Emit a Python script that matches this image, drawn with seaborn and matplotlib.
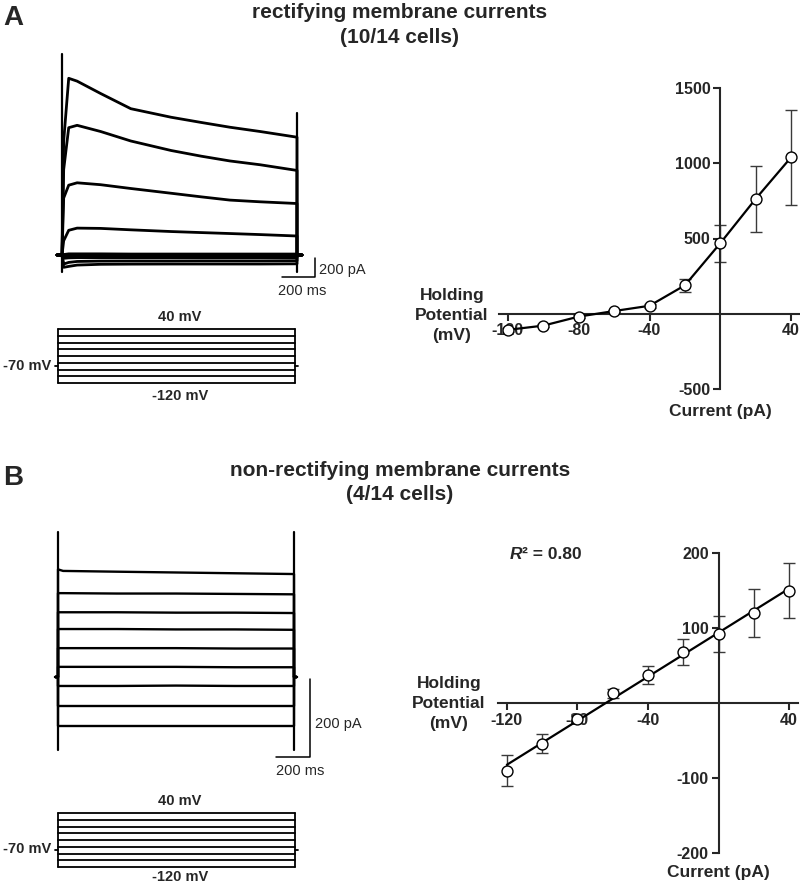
import matplotlib
matplotlib.use("Agg")
import matplotlib.pyplot as plt
import seaborn as sns

W, H = 800, 885

# I-V summary (mean +/- SEM), holding potential in mV, current in pA
holding_mv = [-120, -100, -80, -60, -40, -20, 0, 20, 40]
rect_mean = [-107, -79, -19, 18, 53, 189, 469, 764, 1040]
rect_sem = [15, 10, 8, 8, 12, 44, 124, 221, 317]
nonrect_mean = [-90, -54, -21, 13, 38, 68, 92, 120, 150]
nonrect_sem = [21, 13, 6, 6, 12, 17, 24, 32, 37]
r_squared = 0.80

# voltage protocol
hold_mv = -70
step_ms = 1400

# example recordings, current (pA) read at sample times (ms) for each step (mV)
trace_a_ms = [0, 10, 40, 90, 230, 410, 650, 830, 1000, 1180, 1400]
trace_a = {
    40: [0, 1200, 1860, 1830, 1700, 1540, 1450, 1395, 1345, 1300, 1240],
    20: [0, 900, 1340, 1365, 1300, 1200, 1100, 1040, 990, 950, 890],
    0: [0, 600, 735, 760, 740, 700, 650, 612, 578, 560, 542],
    -20: [0, 150, 260, 283, 280, 265, 247, 236, 226, 215, 200],
    -40: [0, 5, 12, 12, 12, 10, 10, 10, 10, 10, 10],
    -60: [0, -6, -8, -8, -8, -8, -8, -8, -8, -8, -8],
    -80: [0, -35, -30, -28, -28, -28, -28, -28, -28, -28, -28],
    -100: [0, -95, -78, -68, -64, -63, -63, -62, -62, -62, -60],
    -120: [0, -130, -120, -106, -98, -96, -95, -95, -95, -95, -93],
}
cap_a_on = [2120, -180]
cap_a_off = [1500, -180]

trace_b_ms = [0, 30, 350, 700, 1050, 1400]
trace_b = {
    40: [276, 272, 270, 268, 266, 264],
    20: [215, 215, 214, 214, 213, 212],
    0: [166, 166, 166, 165, 165, 164],
    -20: [123, 123, 123, 122, 122, 121],
    -40: [74, 74, 74, 74, 73, 73],
    -60: [26, 26, 26, 26, 25, 25],
    -80: [-23, -23, -23, -22, -23, -23],
    -100: [-74, -74, -74, -74, -74, -74],
    -120: [-125, -125, -125, -125, -125, -125],
}
cap_b_on = [372, -187]
cap_b_off = [372, -187]

scale_pa = 200
scale_ms = 200

sns.set_style("ticks")
plt.rcParams["font.family"] = ["Liberation Sans", "DejaVu Sans"]
plt.rcParams["axes.unicode_minus"] = False

fig = plt.figure(figsize=(W / 100, H / 100), dpi=100)


def ftext(x, y, s, **kw):
    kw.setdefault("va", "baseline")
    return fig.text(x / W, 1 - y / H, s, **kw)


def lin(p, ref):
    (p0, v0), (p1, v1) = ref
    return v0 + (p - p0) * (v1 - v0) / (p1 - p0)


def blank_axes(left, top, right, bottom, xref, yref):
    ax = fig.add_axes([left / W, 1 - bottom / H, (right - left) / W, (bottom - top) / H])
    ax.set_xlim(lin(left, xref), lin(right, xref))
    ax.set_ylim(lin(bottom, yref), lin(top, yref))
    ax.axis("off")
    return ax


def seg(ax, x, y, lw):
    sns.lineplot(x=x, y=y, ax=ax, color="black", lw=lw, sort=False,
                 estimator=None, clip_on=False, legend=False)


def draw_traces(ax, t, traces, cap_on, cap_off, pre, lw):
    for v, vals in traces.items():
        # holding level before the step, the step itself, back to holding
        xs = [-pre, 0] + list(t) + [step_ms, step_ms + pre]
        ys = [0, 0] + list(vals) + [0, 0]
        seg(ax, xs, ys, lw)
    seg(ax, [0, 0], cap_on, 1.6)
    seg(ax, [step_ms, step_ms], cap_off, 1.6)


def scale_bar(ax, x0, y0):
    seg(ax, [x0 - scale_ms, x0, x0], [y0, y0, y0 + scale_pa], 1.1)


def draw_protocol(ax):
    for v in holding_mv:
        seg(ax, [0, step_ms], [v, v], 1.3)
    seg(ax, [0, 0], [min(holding_mv), max(holding_mv)], 1.3)
    seg(ax, [step_ms, step_ms], [min(holding_mv), max(holding_mv)], 1.3)
    seg(ax, [-20, 0], [hold_mv, hold_mv], 1.3)
    seg(ax, [step_ms, step_ms + 20], [hold_mv, hold_mv], 1.3)


def iv_axes(ax, mean, sem, yticks, ylim, fit):
    ax.errorbar(holding_mv, mean, yerr=sem, fmt="none", ecolor="#3a3a3a",
                elinewidth=1, capsize=4, capthick=1, zorder=2)
    if fit:
        sns.regplot(x=holding_mv, y=mean, ax=ax, ci=None, scatter=False, truncate=True,
                    line_kws=dict(color="black", lw=1.6, zorder=3))
    else:
        sns.lineplot(x=holding_mv, y=mean, ax=ax, color="black", lw=1.6, zorder=3)
    sns.scatterplot(x=holding_mv, y=mean, ax=ax, s=62, color="white", edgecolor="black",
                    linewidth=1, zorder=5, clip_on=False)
    ax.set_xlim(-125, 45)
    ax.set_ylim(*ylim)
    ax.patch.set_visible(False)
    for side in ["top", "right"]:
        ax.spines[side].set_visible(False)
    ax.spines["left"].set_position(("data", 0))
    ax.spines["bottom"].set_position(("data", 0))
    for side in ["left", "bottom"]:
        ax.spines[side].set_linewidth(1.5)
    ax.set_xticks([-120, -80, -40, 40])
    ax.set_yticks(yticks)
    ax.tick_params(width=1.5, length=5, labelsize=11.5, pad=2)
    for lab in ax.get_xticklabels() + ax.get_yticklabels():
        lab.set_fontweight("bold")
    ax.set_xlabel("")
    ax.set_ylabel("")


# ---------------- panel A ----------------
ftext(3, 25, "A", fontsize=20, weight="bold")
ftext(400, 18, "rectifying membrane currents", ha="center", fontsize=15, weight="bold")
ftext(400, 43, "(10/14 cells)", ha="center", fontsize=15, weight="bold")

ax_ta = blank_axes(30, 45, 350, 300, ((62, 0), (297, step_ms)), ((255, 0), (236, 200)))
draw_traces(ax_ta, trace_a_ms, trace_a, cap_a_on, cap_a_off, 30, 2.0)
scale_bar(ax_ta, 1510, -232)
ftext(319, 274, "200 pA", fontsize=10.5)
ftext(302, 295, "200 ms", fontsize=10.5, ha="center")

ax_pa = blank_axes(30, 320, 350, 392, ((58, 0), (295, step_ms)), ((329, 40), (383, -120)))
draw_protocol(ax_pa)
ftext(180, 321, "40 mV", ha="center", fontsize=10.5, weight="bold")
ftext(180, 400, "-120 mV", ha="center", fontsize=10.5, weight="bold")
ftext(51, 370, "-70 mV", ha="right", fontsize=10.5, weight="bold")

ax_iva = fig.add_axes([499 / W, 1 - 389 / H, 301 / W, 301 / H])
iv_axes(ax_iva, rect_mean, rect_sem, [-500, 500, 1000, 1500], (-500, 1500), fit=False)
for i, s in enumerate(["Holding", "Potential", "(mV)"]):
    ftext(452, 300 + 20 * i, s, ha="center", fontsize=12.5, weight="bold")
ftext(720, 416, "Current (pA)", ha="center", fontsize=12.5, weight="bold")

# ---------------- panel B ----------------
ftext(3, 485, "B", fontsize=20, weight="bold")
ftext(400, 476, "non-rectifying membrane currents", ha="center", fontsize=15, weight="bold")
ftext(400, 500, "(4/14 cells)", ha="center", fontsize=15, weight="bold")

ax_tb = blank_axes(30, 520, 350, 780, ((58, 0), (294, step_ms)), ((677, 0), (599, 200)))
draw_traces(ax_tb, trace_b_ms, trace_b, cap_b_on, cap_b_off, 15, 1.7)
scale_bar(ax_tb, 1495, -205)
ftext(315, 728, "200 pA", fontsize=10.5)
ftext(300, 775, "200 ms", fontsize=10.5, ha="center")

ax_pb = blank_axes(30, 805, 350, 875, ((58, 0), (295, step_ms)), ((813, 40), (867, -120)))
draw_protocol(ax_pb)
ftext(180, 805, "40 mV", ha="center", fontsize=10.5, weight="bold")
ftext(180, 881, "-120 mV", ha="center", fontsize=10.5, weight="bold")
ftext(51, 853, "-70 mV", ha="right", fontsize=10.5, weight="bold")

ax_ivb = fig.add_axes([498 / W, 1 - 853 / H, 300 / W, 300 / H])
iv_axes(ax_ivb, nonrect_mean, nonrect_sem, [-200, -100, 100, 200], (-200, 200), fit=True)
for i, s in enumerate(["Holding", "Potential", "(mV)"]):
    ftext(449, 688 + 20 * i, s, ha="center", fontsize=12.5, weight="bold")
ftext(718, 877, "Current (pA)", ha="center", fontsize=12.5, weight="bold")

r_txt = ftext(510, 559, "R", fontsize=12.5, weight="bold", style="italic")
ax_ivb.annotate(f"\u00b2 = {r_squared:.2f}", xy=(1, 0), xycoords=r_txt, va="bottom",
                fontsize=12.5, weight="bold", annotation_clip=False)

fig.savefig("out.png", dpi=100)
